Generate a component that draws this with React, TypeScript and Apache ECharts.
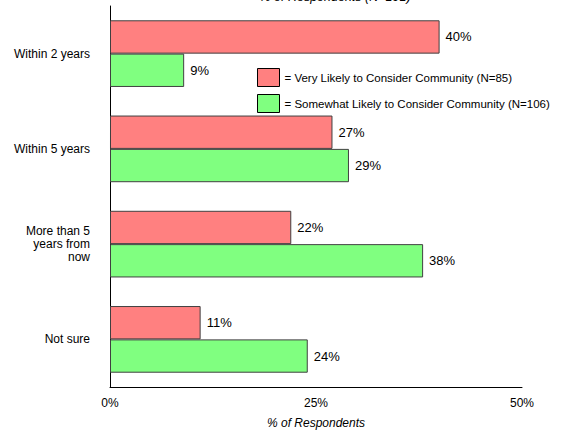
import React, { useEffect, useRef } from "react";
import * as echarts from "echarts";

const categories = ["Within 2 years", "Within 5 years", "More than 5\nyears from\nnow", "Not sure"];
const veryLikely = [40, 27, 22, 11];
const somewhatLikely = [9, 29, 38, 24];
const seriesNames = [
  "= Very Likely to Consider Community (N=85)",
  "= Somewhat Likely to Consider Community (N=106)",
];
const xTicks = [0, 25, 50];
const topTitle = "% of Respondents (N=191)";
const xName = "% of Respondents";

export default function App() {
  const ref = useRef<HTMLDivElement>(null);
  useEffect(() => {
    if (!ref.current) return;
    const chart = echarts.init(ref.current, null, { renderer: "svg" });
    const font = "Arial, 'Liberation Sans', sans-serif";
    chart.setOption({
      animation: false,
      textStyle: { fontFamily: font },
      grid: { left: 110, right: 39, top: 6, bottom: 40, containLabel: false },
      xAxis: {
        type: "value",
        min: xTicks[0],
        max: xTicks[xTicks.length - 1],
        interval: 25,
        axisLine: { show: true, lineStyle: { color: "#000", width: 1 } },
        axisTick: { show: false },
        splitLine: { show: false },
        axisLabel: { formatter: "{value}%", color: "#000", fontSize: 12, margin: 10, fontFamily: font },
        name: xName,
        nameLocation: "middle",
        nameGap: 30,
        nameTextStyle: { fontStyle: "italic", fontSize: 12, color: "#000", fontFamily: font },
      },
      yAxis: {
        type: "category",
        data: categories,
        inverse: true,
        axisLine: { show: true, lineStyle: { color: "#000", width: 1 } },
        axisTick: { show: false },
        axisLabel: { color: "#000", fontSize: 12, margin: 20, align: "right", lineHeight: 13, fontFamily: font },
      },
      legend: {
        orient: "vertical",
        left: 257,
        top: 68,
        padding: 0,
        itemWidth: 22,
        itemHeight: 18,
        itemGap: 7,
        icon: "rect",
        data: seriesNames,
        textStyle: { fontSize: 11.5, color: "#000", fontFamily: font },
        itemStyle: { borderColor: "#000", borderWidth: 1 },
      },
      graphic: [
        {
          type: "text",
          x: 335,
          y: -3,
          style: {
            text: topTitle,
            align: "center",
            verticalAlign: "middle",
            fontSize: 12.5,
            fontStyle: "italic",
            fontFamily: font,
            fill: "#000",
          },
        },
      ],
      series: [
        {
          name: seriesNames[0],
          type: "bar",
          data: veryLikely,
          barGap: "0%",
          barCategoryGap: "30%",
          itemStyle: { color: "#FF8080", borderColor: "#404040", borderWidth: 1 },
          label: { show: true, position: "right", distance: 6, formatter: "{c}%", color: "#000", fontSize: 13, fontFamily: font },
        },
        {
          name: seriesNames[1],
          type: "bar",
          data: somewhatLikely,
          barGap: "0%",
          barCategoryGap: "30%",
          itemStyle: { color: "#80FF80", borderColor: "#404040", borderWidth: 1 },
          label: { show: true, position: "right", distance: 6, formatter: "{c}%", color: "#000", fontSize: 13, fontFamily: font },
        },
      ],
    });
    return () => chart.dispose();
  }, []);
  return <div ref={ref} style={{ width: 561, height: 434, position: "absolute", left: 0, top: 0, background: "#fff" }} />;
}
